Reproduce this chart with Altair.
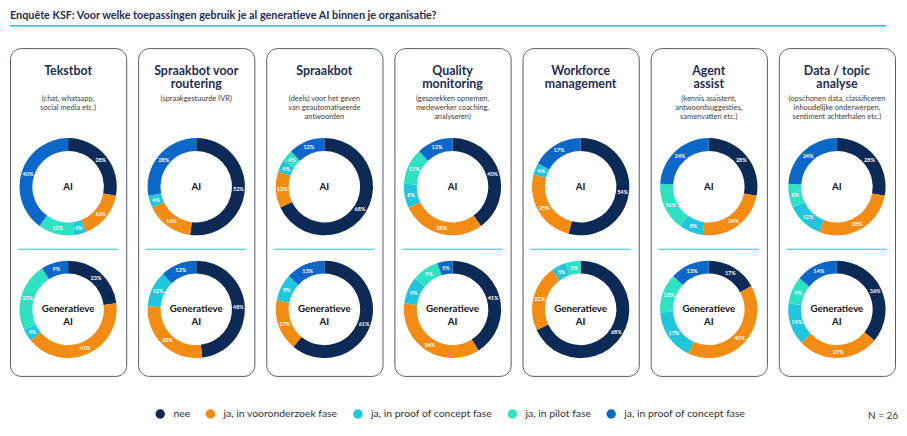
import altair as alt
import pandas as pd

# ---------------- data ----------------
chart_title = "Enquête KSF: Voor welke toepassingen gebruik je al generatieve AI binnen je organisatie?"
panel_titles = [
    ["Tekstbot"],
    ["Spraakbot voor", "routering"],
    ["Spraakbot"],
    ["Quality", "monitoring"],
    ["Workforce", "management"],
    ["Agent", "assist"],
    ["Data / topic", "analyse"],
]
panel_subtitles = [
    ["(chat, whatsapp,", "social media etc.)"],
    ["(spraakgestuurde IVR)"],
    ["(deels) voor het geven", "van geautomatiseerde", "antwoorden"],
    ["(gesprekken opnemen,", "medewerker coaching,", "analyseren)"],
    [],
    ["(kennis assistent,", "antwoordsuggesties,", "samenvatten etc.)"],
    ["(opschonen data, classificeren", "inhoudelijke onderwerpen,", "sentiment achterhalen etc.)"],
]
rings = ["AI", "Generatieve AI"]
ring_labels = ["AI", "Generatieve\nAI"]

category_keys = ["s0", "s1", "s2", "s3", "s4"]
category_labels = [
    "nee",
    "ja, in vooronderzoek fase",
    "ja, in proof of concept fase",
    "ja, in pilot fase",
    "ja, in proof of concept fase",
]
category_colors = ["#0c2a55", "#f28c14", "#1fc6dc", "#2fe2c4", "#0b68c9"]

# percentages per panel (Tekstbot ... Data / topic analyse)
ai_nee = [28, 52, 68, 40, 54, 28, 28]
ai_vooronderzoek = [16, 16, 12, 28, 25, 24, 28]
ai_poc = [4, 4, 4, 8, 4, 8, 12]
ai_pilot = [12, 0, 4, 12, 0, 16, 8]
ai_blue = [40, 28, 12, 12, 17, 24, 24]

gen_nee = [23, 48, 61, 41, 68, 17, 36]
gen_vooronderzoek = [41, 28, 17, 36, 22, 40, 27]
gen_poc = [4, 12, 9, 9, 5, 17, 14]
gen_pilot = [23, 0, 0, 9, 5, 13, 9]
gen_blue = [9, 12, 13, 5, 0, 13, 14]

n_text = "N = 26"

# ---------------- styling ----------------
FONT = "Lato"
NAVY = "#1f2d52"
TEAL = "#2bbfd1"
PW, PH = 117, 330
R_OUT, R_IN = 49, 36
CY = [139.5, 263]

ai_series = [ai_nee, ai_vooronderzoek, ai_poc, ai_pilot, ai_blue]
gen_series = [gen_nee, gen_vooronderzoek, gen_poc, gen_pilot, gen_blue]

legend_expr = "[" + ",".join("'" + l + "'" for l in category_labels) + "][indexof([" + \
    ",".join("'" + k + "'" for k in category_keys) + "], datum.value)]"

color_enc = alt.Color(
    "cat:N",
    scale=alt.Scale(domain=category_keys, range=category_colors),
    legend=alt.Legend(
        orient="none", legendX=146, legendY=400, direction="horizontal",
        title=None, symbolType="circle", symbolSize=90, symbolStrokeWidth=0,
        labelExpr=legend_expr, labelFont=FONT, labelFontSize=10.5,
        labelColor="#333333", columnPadding=14.5, labelOffset=8,
    ),
)
y_enc = alt.Y("ring:N", scale=alt.Scale(type="point", domain=rings, range=CY, padding=0), axis=None)
theta_scale = alt.Scale(domain=[0, 100], range=[0, 6.283185307179586])


def panel(i):
    rows = []
    for ring, series in zip(rings, [ai_series, gen_series]):
        cum = 0
        for k, s in zip(category_keys, series):
            v = s[i]
            if v > 0:
                rows.append({"ring": ring, "cat": k, "value": v, "start": cum,
                             "end": cum + v, "mid": cum + v / 2, "label": f"{v}%"})
            cum += v
    seg = pd.DataFrame(rows)

    arcs = alt.Chart(seg).mark_arc(radius=R_OUT, radius2=R_IN).encode(
        theta=alt.Theta("start:Q", scale=theta_scale, stack=None),
        theta2="end:Q",
        y=y_enc,
        color=color_enc,
    )
    seg_labels = alt.Chart(seg).mark_text(
        radius=(R_OUT + R_IN) / 2, font=FONT, fontSize=5.5, fontWeight="bold", color="white"
    ).encode(
        theta=alt.Theta("mid:Q", scale=theta_scale, stack=None),
        y=y_enc,
        text="label:N",
    )
    centers = alt.Chart(pd.DataFrame({"ring": rings, "t": ring_labels})).mark_text(
        font=FONT, fontSize=9.8, fontWeight="bold", color="#111111", lineBreak="\n", lineHeight=13
    ).encode(y=y_enc, text="t:N")
    sep = alt.Chart(pd.DataFrame({"a": [0]})).mark_rule(color=TEAL, strokeWidth=1.2).encode(
        x=alt.value(8), x2=alt.value(PW - 8), y=alt.value(202.5)
    )
    ttl = alt.Chart(pd.DataFrame({"t": ["\n".join(panel_titles[i])]})).mark_text(
        font=FONT, fontSize=12.5, fontWeight="bold", color=NAVY, lineBreak="\n",
        lineHeight=13.5, baseline="middle"
    ).encode(text="t:N", y=alt.value(23))
    layers = [arcs, seg_labels, centers, sep, ttl]
    if panel_subtitles[i]:
        sub = alt.Chart(pd.DataFrame({"t": ["\n".join(panel_subtitles[i])]})).mark_text(
            font=FONT, fontSize=7.5, color="#3a3a3a", lineBreak="\n", lineHeight=9.3,
            baseline="middle"
        ).encode(text="t:N", y=alt.value(51))
        layers.append(sub)
    if i == 6:
        ntx = alt.Chart(pd.DataFrame({"t": [n_text]})).mark_text(
            font=FONT, fontSize=10, color="#333333", align="right", baseline="middle"
        ).encode(text="t:N", x=alt.value(120), y=alt.value(370))
        layers.append(ntx)
    return alt.layer(*layers).properties(
        width=PW, height=PH,
        view=alt.ViewBackground(stroke="#555b66", strokeWidth=1, cornerRadius=11, fill="white"),
    )


header = alt.layer(
    alt.Chart(pd.DataFrame({"t": [chart_title]})).mark_text(
        font=FONT, fontSize=10.9, fontWeight="bold", color=NAVY, align="left", baseline="middle"
    ).encode(text="t:N", x=alt.value(0), y=alt.value(5)),
    alt.Chart(pd.DataFrame({"a": [0]})).mark_rule(color=TEAL, strokeWidth=1.5).encode(
        x=alt.value(0), x2=alt.value(882), y=alt.value(14.5)
    ),
).properties(width=879, height=20)

panels = alt.hconcat(*[panel(i) for i in range(7)], spacing=10)

chart = alt.vconcat(header, panels, spacing=15).properties(
    padding=0, background="white"
).configure_view(stroke="transparent")

chart.save("out.html", embed_options={"renderer": "svg", "actions": False})
